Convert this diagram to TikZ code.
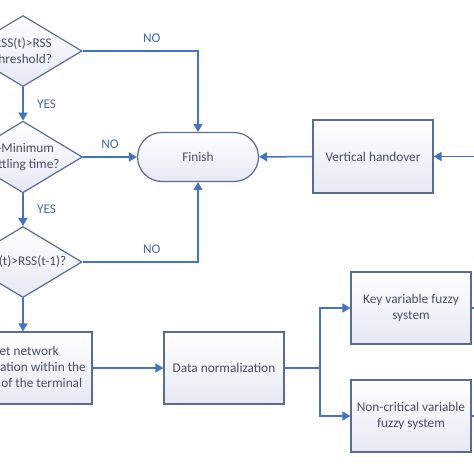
\documentclass[tikz,border=0pt]{standalone}
\usepackage{fontspec}
\setmainfont{Carlito}
\usetikzlibrary{arrows.meta,shapes.geometric,shapes.misc}
\definecolor{flowblue}{HTML}{4472C4}
\definecolor{boxline}{HTML}{5A6C96}
\definecolor{boxfill}{HTML}{E6E8F4}
\definecolor{boxtext}{HTML}{4A5066}
\definecolor{labeltext}{HTML}{4A68A8}

\begin{document}
\begin{tikzpicture}[x=1pt, y=-1pt,
  font=\fontsize{13.3}{16}\selectfont,
  base/.style = {draw=boxline, line width=1.2pt, top color=white, bottom color=boxfill, text=boxtext, align=center, inner sep=0pt},
  decision/.style = {base, diamond, shape aspect=1.66, minimum width=118pt, minimum height=71pt},
  process/.style = {base, rectangle, minimum width=120pt, minimum height=72pt},
  terminal/.style = {base, rounded rectangle, minimum width=121pt, minimum height=49pt},
  flow/.style = {draw=flowblue, line width=1.5pt, -{Triangle[length=8pt,width=9pt]}},
  answer/.style = {text=labeltext}]
\useasboundingbox (0,0) rectangle (474,474);
\clip (0,0) rectangle (474,474);
\node[decision] (d1) at (23,51) {RSS(t)>RSS\\threshold?};
\node[decision] (d2) at (23,157) {T-Minimum\\settling time?};
\node[decision] (d3) at (23,262) {RSS(t)>RSS(t-1)?};
\node[process, minimum width=134pt] (get) at (25,368) {Get network\\information within the\\range of the terminal};
\node[process] (norm) at (224,368) {Data normalization};
\node[process] (key) at (411,308) {Key variable fuzzy\\system};
\node[process] (noncrit) at (411,416) {Non-critical variable\\fuzzy system};
\node[terminal] (finish) at (198,157) {Finish};
\node[process, minimum height=73pt] (vho) at (373,156.5) {Vertical handover};
\coordinate (fork) at (320,368);
\coordinate (inho) at (490,156.5);
\coordinate (outkey) at (490,308);
\coordinate (outnon) at (490,416);
\draw[flow] (d1) -- (d2) node[answer, midway, right=10pt] {YES};
\draw[flow] (d2) -- (d3) node[answer, midway, right=10pt] {YES};
\draw[flow] (d3) -- (get.north -| d3);
\draw[flow] (d1.east) -| (finish.north) node[answer, pos=0.3, above=4pt] {NO};
\draw[flow] (d2.east) -- (finish.west) node[answer, midway, above=4pt] {NO};
\draw[flow] (d3.east) -| (finish.south) node[answer, pos=0.3, above=4pt] {NO};
\draw[flow] (get) -- (norm);
\draw[flow, -] (norm) -- (fork);
\draw[flow] (fork) |- (key.west);
\draw[flow] (fork) |- (noncrit.west);
\draw[flow] (vho) -- (finish);
\draw[flow] (inho) -- (vho);
\draw[flow, -] (key) -- (outkey);
\draw[flow, -] (noncrit) -- (outnon);
\end{tikzpicture}
\end{document}
